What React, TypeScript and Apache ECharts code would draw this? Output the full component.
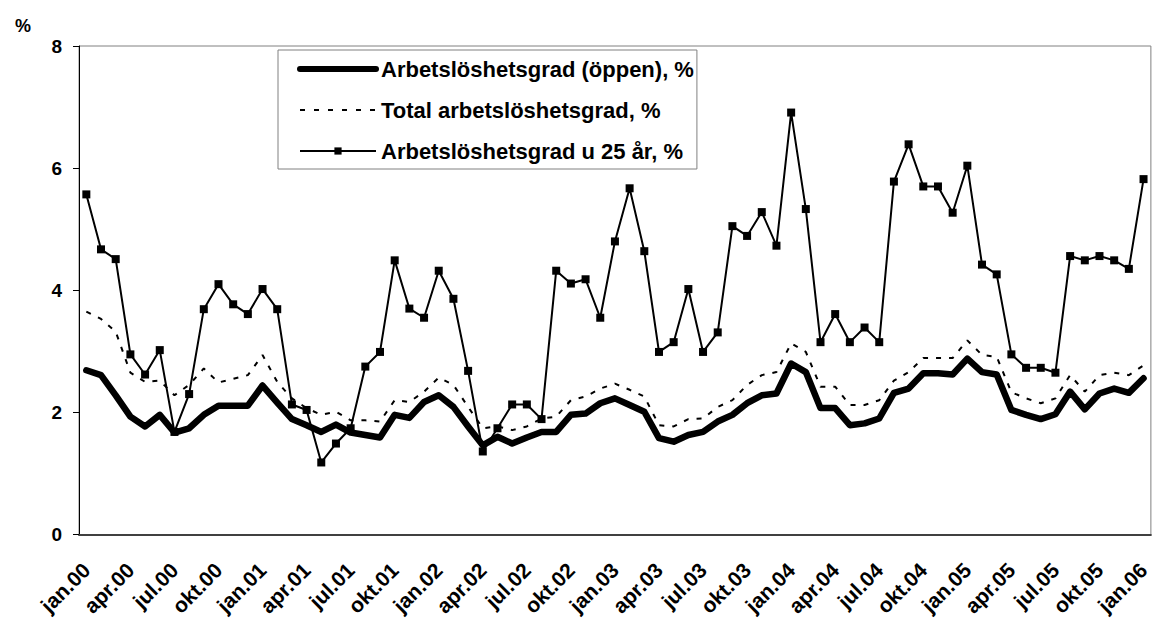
import React, { useEffect, useRef } from "react";
import * as echarts from "echarts";

const monthNames = ["jan", "feb", "mar", "apr", "maj", "jun", "jul", "aug", "sep", "okt", "nov", "dec"];
const years = ["00", "01", "02", "03", "04", "05", "06"];
const categories: string[] = [];
years.forEach((y, yi) => {
  monthNames.forEach((m, mi) => {
    if (yi < 6 || mi === 0) categories.push(m + "." + y);
  });
});

const openRate = [
  2.69, 2.61, 2.28, 1.93, 1.77, 1.96, 1.67, 1.74, 1.96, 2.11, 2.11, 2.11,
  2.44, 2.16, 1.89, 1.79, 1.68, 1.80, 1.67, 1.63, 1.59, 1.96, 1.91, 2.17,
  2.28, 2.09, 1.77, 1.46, 1.60, 1.49, 1.59, 1.68, 1.68, 1.96, 1.98, 2.15,
  2.23, 2.12, 2.01, 1.58, 1.52, 1.63, 1.68, 1.85, 1.96, 2.15, 2.28, 2.31,
  2.80, 2.66, 2.07, 2.07, 1.79, 1.82, 1.90, 2.32, 2.39, 2.64, 2.64, 2.62,
  2.88, 2.66, 2.62, 2.04, 1.96, 1.89, 1.97, 2.34, 2.05, 2.31, 2.39, 2.32,
  2.56,
];

const totalRate = [
  3.65, 3.53, 3.32, 2.65, 2.50, 2.52, 2.28, 2.45, 2.72, 2.49, 2.55, 2.61,
  2.94, 2.50, 2.23, 2.07, 1.96, 2.01, 1.87, 1.87, 1.85, 2.20, 2.17, 2.34,
  2.57, 2.45, 2.09, 1.74, 1.77, 1.71, 1.77, 1.90, 1.93, 2.20, 2.26, 2.39,
  2.47, 2.37, 2.26, 1.79, 1.77, 1.89, 1.90, 2.09, 2.20, 2.45, 2.61, 2.66,
  3.13, 2.99, 2.42, 2.42, 2.12, 2.12, 2.20, 2.52, 2.66, 2.89, 2.89, 2.89,
  3.18, 2.94, 2.91, 2.33, 2.23, 2.15, 2.23, 2.61, 2.34, 2.61, 2.65, 2.61,
  2.77,
];

const youthRate = [
  5.57, 4.67, 4.51, 2.95, 2.62, 3.02, 1.68, 2.30, 3.69, 4.10, 3.77, 3.61,
  4.02, 3.69, 2.13, 2.04, 1.18, 1.49, 1.74, 2.75, 2.99, 4.49, 3.70, 3.55,
  4.32, 3.86, 2.68, 1.36, 1.74, 2.13, 2.13, 1.89, 4.32, 4.11, 4.18, 3.55,
  4.80, 5.67, 4.64, 2.99, 3.15, 4.02, 2.99, 3.31, 5.05, 4.89, 5.28, 4.73,
  6.91, 5.33, 3.15, 3.61, 3.15, 3.39, 3.15, 5.78, 6.39, 5.70, 5.70, 5.27,
  6.04, 4.42, 4.26, 2.95, 2.73, 2.73, 2.65, 4.56, 4.49, 4.56, 4.49, 4.35,
  5.82,
];

const seriesNames = [
  "Arbetslöshetsgrad (öppen), %",
  "Total arbetslöshetsgrad, %",
  "Arbetslöshetsgrad u 25 år, %",
];
const yTicks = { min: 0, max: 8, interval: 2 };
const unitLabel = "%";

const FONT = "'Liberation Sans', Arial, sans-serif";

export default function App() {
  const ref = useRef<HTMLDivElement>(null);
  useEffect(() => {
    if (!ref.current) return;
    const chart = echarts.init(ref.current, undefined, { renderer: "svg" });
    chart.setOption({
      animation: false,
      backgroundColor: "#ffffff",
      textStyle: { fontFamily: FONT, color: "#000" },
      title: {
        text: unitLabel,
        left: 10,
        top: 12,
        textStyle: { fontFamily: FONT, fontSize: 18, fontWeight: "bold", color: "#000" },
      },
      legend: {
        left: 278,
        top: 50,
        orient: "vertical",
        backgroundColor: "#ffffff",
        borderColor: "#808080",
        borderWidth: 1,
        borderRadius: 0,
        padding: [8, 3, 7, 19],
        itemWidth: 76,
        itemHeight: 9,
        itemGap: 19,
        textStyle: { fontFamily: FONT, fontSize: 22, fontWeight: "bold", color: "#000", lineHeight: 20 },
        data: [
          { name: seriesNames[0], itemStyle: { opacity: 0 }, lineStyle: { width: 6, cap: "round" } },
          { name: seriesNames[1], itemStyle: { opacity: 0 }, lineStyle: { width: 2, type: [5, 9] } },
          { name: seriesNames[2], lineStyle: { width: 2 } },
        ],
      },
      grid: {
        left: 79,
        top: 46,
        width: 1084,
        height: 490,
        show: true,
        borderColor: "#808080",
        borderWidth: 1,
        backgroundColor: "transparent",
      },
      xAxis: {
        type: "category",
        data: categories,
        boundaryGap: true,
        axisLine: { lineStyle: { color: "#404040", width: 2 } },
        axisTick: { interval: 2, length: 6, lineStyle: { color: "#404040", width: 1 } },
        axisLabel: {
          interval: 2,
          rotate: 45,
          margin: 32,
          fontFamily: FONT,
          fontSize: 21,
          fontWeight: "bold",
          color: "#000",
        },
        splitLine: { show: false },
      },
      yAxis: {
        type: "value",
        min: yTicks.min,
        max: yTicks.max,
        interval: yTicks.interval,
        axisLine: { show: true, lineStyle: { color: "#000", width: 1 } },
        axisTick: { show: true, length: 6, lineStyle: { color: "#000" } },
        axisLabel: {
          margin: 17,
          fontFamily: FONT,
          fontSize: 19,
          fontWeight: "bold",
          color: "#000",
        },
        splitLine: { show: false },
      },
      series: [
        {
          name: seriesNames[2],
          type: "line",
          data: youthRate,
          symbol: "rect",
          symbolSize: 8,
          z: 2,
          itemStyle: { color: "#000" },
          lineStyle: { color: "#000", width: 2 },
        },
        {
          name: seriesNames[1],
          type: "line",
          data: totalRate,
          symbol: "none",
          z: 3,
          itemStyle: { color: "#000" },
          lineStyle: { color: "#000", width: 2, type: [5, 8] },
        },
        {
          name: seriesNames[0],
          type: "line",
          data: openRate,
          symbol: "none",
          z: 4,
          itemStyle: { color: "#000" },
          lineStyle: { color: "#000", width: 6.5, join: "round", cap: "round" },
        },
      ],
    });
    return () => chart.dispose();
  }, []);
  return (
    <div
      ref={ref}
      style={{ position: "fixed", left: 0, top: 0, width: 1153, height: 619, background: "#fff" }}
    />
  );
}
